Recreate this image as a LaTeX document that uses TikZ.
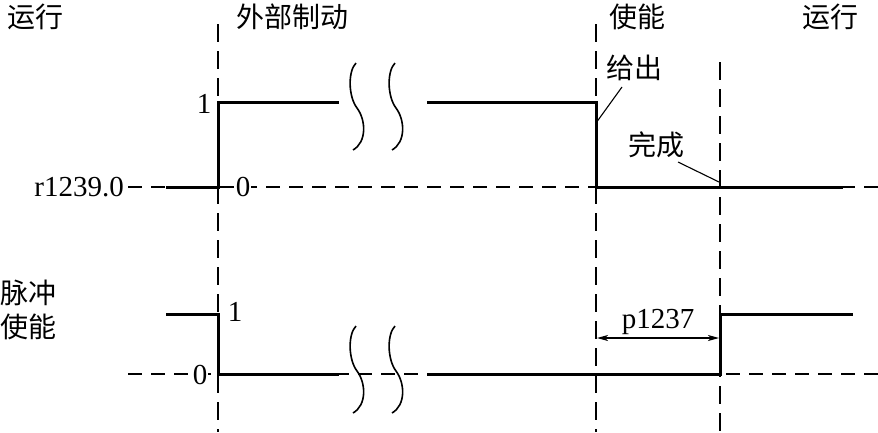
\documentclass[tikz,border=0pt]{standalone}
\usepackage{fontspec}
\setmainfont{Liberation Serif}
\newfontfamily\cjk{Noto Sans CJK SC}
\usetikzlibrary{arrows.meta}
\begin{document}
\begin{tikzpicture}[x=1pt,y=-1pt,
  cn/.style={font=\cjk\fontsize{28}{34}\selectfont,inner sep=0pt},
  num/.style={font=\fontsize{29}{32}\selectfont,inner sep=0pt},
  sig/.style={line width=3pt,line join=miter},
  guide/.style={line width=1.2pt,dash pattern=on 18pt off 9pt},
  base/.style={line width=1.2pt,dash pattern=on 14pt off 9pt},
  lead/.style={line width=1.1pt},
  wave/.pic={\draw[line width=1.6pt] (-1,-43) .. controls (-9,-35) and (-9,-10) .. (0,2) .. controls (9,14) and (10,36) .. (-4,44);}
]
\useasboundingbox (0,0) rectangle (878,432);
% phase labels
\node[cn] (run1) at (36,17) {运行};
\node[cn] (brake) at (292,17) {外部制动};
\node[cn] (en) at (637,17) {使能};
\node[cn] (run2) at (830,17) {运行};
% vertical guides
\coordinate (g1t) at (218,24); \coordinate (g1b) at (218,432);
\coordinate (g2t) at (596,24); \coordinate (g2b) at (596,432);
\coordinate (g3t) at (720,62); \coordinate (g3b) at (720,432);
\draw[guide] (g1t) -- (g1b);
\draw[guide] (g2t) -- (g2b);
\draw[guide] (g3t) -- (g3b);
% top signal r1239.0
\node[num,anchor=east] (r) at (124,187) {r1239.0};
\coordinate (b1s) at (128,187); \coordinate (b1e) at (878,187);
\draw[base] (b1s) -- (b1e);
\node[num,fill=white,inner sep=1pt] (t0) at (243,187) {0};
\node[num] (t1) at (204,104) {1};
\coordinate (a0) at (166,187); \coordinate (a1) at (218,187);
\coordinate (a2) at (218,102); \coordinate (a3) at (339,102);
\coordinate (a4) at (427,102); \coordinate (a5) at (596,102);
\coordinate (a6) at (596,187); \coordinate (a7) at (843,187);
\draw[sig] (a0) -- (a1) -- (a2) -- (a3);
\draw[sig] (a4) -- (a5) -- (a6) -- (a7);
\pic at (357,106) {wave};
\pic at (396,106) {wave};
% annotations
\node[cn] (give) at (634,68) {给出};
\coordinate (givep) at (596,123);
\draw[lead] (622,87) -- (givep);
\node[cn] (done) at (656,145) {完成};
\coordinate (donep) at (719,182);
\draw[lead] (678,162) -- (donep);
% bottom signal
\node[cn,align=left,font=\cjk\fontsize{28}{34}\selectfont] (pulse) at (29,310) {脉冲\\使能};
\coordinate (b2s) at (128,374); \coordinate (b2e) at (878,374);
\draw[base] (b2s) -- (b2e);
\node[num,fill=white,inner sep=1pt] (l0) at (200,375) {0};
\node[num] (l1) at (235,312) {1};
\coordinate (c0) at (166,314); \coordinate (c1) at (218,314);
\coordinate (c2) at (218,374); \coordinate (c3) at (339,374);
\coordinate (c4) at (427,374); \coordinate (c5) at (720,374);
\coordinate (c6) at (720,314); \coordinate (c7) at (853,314);
\draw[sig] (c0) -- (c1) -- (c2) -- (c3);
\draw[sig] (c4) -- (c5) -- (c6) -- (c7);
\pic at (357,369) {wave};
\pic at (396,369) {wave};
% p1237 dimension
\coordinate (d1) at (597,338); \coordinate (d2) at (719,338);
\draw[line width=1.1pt,{Stealth[length=11pt,width=6pt,inset=3pt]}-{Stealth[length=11pt,width=6pt,inset=3pt]}] (d1) -- (d2) node[midway,above=3pt,num] (p) {p1237};
\end{tikzpicture}
\end{document}
